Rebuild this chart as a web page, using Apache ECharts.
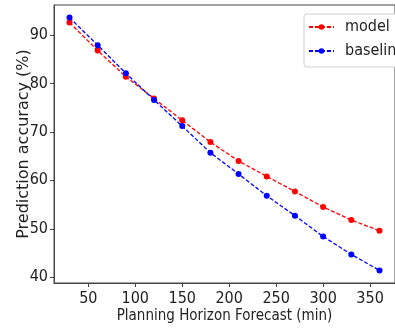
<!DOCTYPE html>
<html>
<head>
<meta charset="utf-8">
<script src="https://cdn.jsdelivr.net/npm/echarts@6/dist/echarts.min.js"></script>
<style>html,body{margin:0;padding:0;background:#fff}#c{width:395px;height:329px}</style>
</head>
<body>
<div id="c"></div>
<script>
const horizons = [30, 60, 90, 120, 150, 180, 210, 240, 270, 300, 330, 360];
const modelAcc = [92.6, 86.8, 81.4, 76.9, 72.4, 67.9, 64.0, 60.8, 57.7, 54.5, 51.8, 49.6];
const baselineAcc = [93.6, 87.9, 82.1, 76.6, 71.2, 65.7, 61.3, 56.8, 52.7, 48.4, 44.7, 41.4];
const xTicks = [50, 100, 150, 200, 250, 300, 350];
const yTicks = [40, 50, 60, 70, 80, 90];

const narrow = "'DejaVu Sans Condensed', 'Liberation Sans Narrow', sans-serif";
const axisColor = '#444';
const textColor = '#222';

function pairs(xs, ys) { return xs.map((x, i) => [x, ys[i]]); }

const chart = echarts.init(document.getElementById('c'), null, {renderer: 'canvas'});
chart.setOption({
  animation: false,
  backgroundColor: '#fff',
  grid: {left: 54, top: 5, right: -15, bottom: 45, show: true, borderColor: axisColor, borderWidth: 1, containLabel: false},
  xAxis: {
    type: 'value', min: 13.5, max: 376.5,
    name: 'Planning Horizon Forecast (min)', nameLocation: 'middle', nameGap: 26, nameMoveOverlap: false,
    nameTextStyle: {fontFamily: narrow, fontSize: 15, color: textColor},
    axisLine: {show: true, lineStyle: {color: axisColor}},
    axisTick: {show: true, length: 4, lineStyle: {color: axisColor}, customValues: xTicks},
    axisLabel: {fontFamily: narrow, fontSize: 16, color: textColor, margin: 8, customValues: xTicks},
    splitLine: {show: false}
  },
  yAxis: {
    type: 'value', min: 38.8, max: 96.2,
    name: 'Prediction accuracy (%)', nameLocation: 'middle', nameGap: 22, nameRotate: 90, nameMoveOverlap: false,
    nameTextStyle: {fontFamily: "'DejaVu Sans', sans-serif", fontSize: 16, color: textColor},
    axisLine: {show: true, lineStyle: {color: axisColor}},
    axisTick: {show: true, length: 4, lineStyle: {color: axisColor}, customValues: yTicks},
    axisLabel: {fontFamily: narrow, fontSize: 16, color: textColor, margin: 6, customValues: yTicks},
    splitLine: {show: false}
  },
  legend: {
    orient: 'vertical', left: 304, top: 14,
    padding: [5, 30, 8, 4], itemGap: 8, itemWidth: 25, itemHeight: 7,
    borderColor: '#d0d0d0', borderWidth: 1, borderRadius: 3, backgroundColor: '#fff',
    textStyle: {fontFamily: narrow, fontSize: 16, color: textColor, padding: [0, 0, 0, 6]},
    data: ['model', 'baseline']
  },
  series: [
    {name: 'model', type: 'line', data: pairs(horizons, modelAcc),
     symbol: 'circle', symbolSize: 6, color: '#ff0000',
     lineStyle: {color: '#ff0000', width: 1.3, type: [4, 2]},
     itemStyle: {color: '#ff0000'}},
    {name: 'baseline', type: 'line', data: pairs(horizons, baselineAcc),
     symbol: 'circle', symbolSize: 6, color: '#0000ff',
     lineStyle: {color: '#0000ff', width: 1.3, type: [4, 2]},
     itemStyle: {color: '#0000ff'}}
  ]
});
</script>
</body>
</html>
